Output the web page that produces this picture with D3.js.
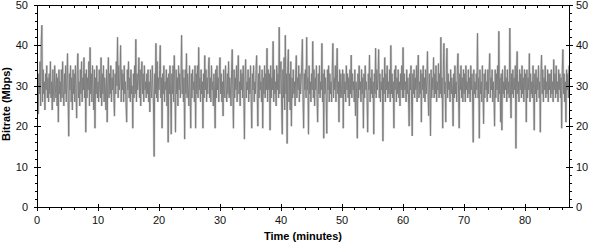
<!DOCTYPE html>
<html>
<head>
<meta charset="utf-8">
<script src="https://cdn.jsdelivr.net/npm/d3@7"></script>
<style>
body { margin: 0; background: #fff; }
text { font-family: Arial, "Liberation Sans", sans-serif; }
</style>
</head>
<body>
<script>
// samples every 0.1 minutes (Mbps); one row = 2 minutes
var step = 0.1;
var bitrate = [
  30,27,23,33,28,36,25,41,45,26,34,28,31,24,33,29,35,27,32,26,
  33,28,36,27,31,24,34,29,26,35,30,27,33,25,32,21,34,28,31,26,
  34,27,36,29,25,33,28,35,26,31,38,27,17.5,33,29,35,26,32,24,34,
  28,33,26,35,29,22,34,38,27,31,25,34,28,36,26,32,29,37,27,33,
  18.5,34,27,32,29,36,25,39.5,28,33,26,35,29,24,34,19.5,32,28,35,27,
  31,26,34,29,27,37,25,33,28,35,26,32,29,24,34,21,31,37,27,33,
  28,35,26,32,29,34,27,22.5,33,28,36,30,42,27,35,29,31,40,26,34,
  29,33,26,35,28,31,25,21,34,29,36,27,32,26,34,28,30,19.5,33,27,
  35,28,41.5,26,33,29,31,37,27,34,25,32,36,28,33,26,35,29,31,27,
  33,28,34,26,31,23.5,34,29,27,35,30,25,12.5,33,28,40.5,27,36,26,32,
  29,34,40,27,32,19.5,33,28,35,26,31,29,34,25,32,16,33,28,35,27,
  18,33,28,35,26,37.5,31,18.5,34,28,32,25,35,29,33,27,31,42.5,28,34,
  26,32,16.8,34,28,38,27,33,29,25,35,28,19.5,33,27,34,29,31,26,35,
  19.5,33,28,35,27,39.5,29,32,26,34,28,31,19.5,33,27,37.5,29,34,26,32,
  28,34,37,27,32,26,35,29,31,25,33,28,19.5,34,27,35,29,32,26,34,
  37,28,33,26,31,22.5,34,29,27,35,30,26,33,28,36,27,32,29,25,34,
  39,28,19.5,34,27,32,29,35,26,33,37.5,28,31,25,34,29,33,27,35,28,
  16.8,33,36.5,27,31,29,34,26,32,28,35,27,19.5,33,29,35,26,31,28,34,
  37.5,28,20,33,27,35,29,31,26,34,19.5,32,28,35,27,33,29,39.3,26,34,
  29,33,19,35,27,32,29,41,26,34,28,31,25,35,29,33,27,44.5,28,35,
  36,25,18,34,27,37,24,42.5,28,33,15.7,35,39,26,33,24,36,20,32,27,
  34,28,31,25,33,37.5,27,32,29,35,26,33,28,31,36,41.5,27,19.5,33,29,
  34,27,42,29,32,18,35,28,31,26,33,29,41,27,34,25,32,29,35,27,
  21,33,28,35,27,31,29,40.5,26,33,17,34,28,32,27,18.2,34,29,35,26,
  33,28,31,26,34,40.5,27,32,29,35,26,33,39.3,28,31,21,34,27,33,29,
  27,34,19.5,33,28,31,26,35,29,33,27,32,25,34,28,37.6,27,33,29,31,
  26,34,22.6,31,28,17,33,27,35,29,31,26,34,28,32,19.5,33,27,35,29,
  31,27,18.5,33,29,37.6,26,32,28,34,27,31,18,33,28,39.3,27,34,29,32,
  39,27,33,26,31,29,34,16.3,32,28,37,26,33,29,35,27,31,28,34,26,
  40,28,33,27,31,19.5,34,29,35,26,32,28,34,27,31,25,33,29,35,27,
  39.5,27,33,29,31,26,34,28,32,27,20,33,29,35,26,17.6,33,28,34,27,
  32,29,35,26,33,37.6,27,31,28,34,21,33,29,35,27,32,26,34,28,31,
  38.5,28,22.6,33,29,17.6,34,27,32,29,37,27,33,28,35,26,31,29,35.5,27,
  33,28,42,27,32,19.5,34,40.5,28,31,21,34,39.3,27,33,29,31,26,34,28,
  32,29,20,33,27,35,28,31,26,34,38,28,19.5,33,29,35,27,32,26,34,
  28,33,26,35,29,31,27,34,28,32,26,35,29,33,27,16,34,28,31,27,
  33,29,43,27,32,17,34,28,31,26,35,29,20.6,33,27,34,29,31,26,34,
  28,33,38,27,32,29,34,26,31,28,20,34,27,33,29,35,26,43.5,28,32,
  21,33,19,34,28,31,27,35,29,32,26,34,28,31,27,44.3,29,22,33,28,
  34,27,32,29,35,14.5,33,38.5,28,31,26,34,29,33,27,35,28,32,26,34,
  29,33,21,34,27,32,29,38,26,33,28,31,27,35,29,19,33,28,34,26,
  32,29,35,27,31,18.5,33,37.6,28,34,26,32,29,35,27,31,28,34,26,33,
  29,33,27,34,28,31,26,36.5,29,33,27,35,28,31,26,34,29,33,27,32,
  19.5,34,39,28,33,26,31,21,34,29,33,27,35
];
var xTicks = [0, 10, 20, 30, 40, 50, 60, 70, 80];
var yTicks = [0, 10, 20, 30, 40, 50];
var xMinor = d3.range(0, 88, 2).filter(function(v) { return v % 10 !== 0; });
var yMinor = d3.range(0, 51, 2).filter(function(v) { return v % 10 !== 0; });

var W = 590, H = 243;
var pl = 37, pr = 569, pt = 5, pb = 207;

var x = d3.scaleLinear().domain([0, 87.2]).range([pl, pr]);
var y = d3.scaleLinear().domain([0, 50]).range([pb, pt]);

var svg = d3.select("body").append("svg")
    .attr("width", W)
    .attr("height", H);

svg.append("clipPath").attr("id", "plot")
  .append("rect")
    .attr("x", pl).attr("y", pt)
    .attr("width", pr - pl).attr("height", pb - pt);

var line = d3.line()
    .x(function(d, i) { return x(i * step); })
    .y(function(d) { return y(d); });

var g = svg.append("g").attr("clip-path", "url(#plot)");
g.append("path")
    .datum(bitrate)
    .attr("d", line)
    .attr("fill", "none")
    .attr("stroke", "#d8d8d8")
    .attr("stroke-width", 2.4);
g.append("path")
    .datum(bitrate)
    .attr("d", line)
    .attr("fill", "none")
    .attr("stroke", "#7e7e7e")
    .attr("stroke-width", 1);

// frame
svg.append("rect")
    .attr("x", pl + 0.5).attr("y", pt + 0.5)
    .attr("width", pr - pl).attr("height", pb - pt)
    .attr("fill", "none")
    .attr("stroke", "#000")
    .attr("stroke-width", 1);

var ticks = svg.append("g").attr("stroke", "#000").attr("stroke-width", 1);

// left / right major
yTicks.forEach(function(v) {
  var yy = Math.round(y(v)) + 0.5;
  ticks.append("line").attr("x1", pl - 3).attr("x2", pl + 4).attr("y1", yy).attr("y2", yy);
  ticks.append("line").attr("x1", pr - 3).attr("x2", pr + 4).attr("y1", yy).attr("y2", yy);
});
yMinor.forEach(function(v) {
  var yy = Math.round(y(v)) + 0.5;
  ticks.append("line").attr("x1", pl - 2).attr("x2", pl).attr("y1", yy).attr("y2", yy);
  ticks.append("line").attr("x1", pr + 1).attr("x2", pr + 3).attr("y1", yy).attr("y2", yy);
});
// bottom / top
xTicks.forEach(function(v) {
  var xx = Math.round(x(v)) + 0.5;
  ticks.append("line").attr("x1", xx).attr("x2", xx).attr("y1", pb - 3).attr("y2", pb + 4);
  ticks.append("line").attr("x1", xx).attr("x2", xx).attr("y1", pt).attr("y2", pt + 4);
});
xMinor.forEach(function(v) {
  var xx = Math.round(x(v)) + 0.5;
  ticks.append("line").attr("x1", xx).attr("x2", xx).attr("y1", pb + 1).attr("y2", pb + 3);
  ticks.append("line").attr("x1", xx).attr("x2", xx).attr("y1", pt + 1).attr("y2", pt + 3);
});

// tick labels
svg.append("g").selectAll("text").data(yTicks).enter().append("text")
    .attr("x", pl - 9).attr("y", function(d) { return y(d) + 4; })
    .attr("text-anchor", "end")
    .attr("font-size", 11).attr("fill", "#111")
    .text(function(d) { return d; });
svg.append("g").selectAll("text").data(yTicks).enter().append("text")
    .attr("x", pr + 7).attr("y", function(d) { return y(d) + 4; })
    .attr("text-anchor", "start")
    .attr("font-size", 11).attr("fill", "#111")
    .text(function(d) { return d; });
svg.append("g").selectAll("text").data(xTicks).enter().append("text")
    .attr("x", function(d) { return x(d); }).attr("y", 224)
    .attr("text-anchor", "middle")
    .attr("font-size", 11).attr("fill", "#111")
    .text(function(d) { return d; });

svg.append("text")
    .attr("x", 303).attr("y", 240)
    .attr("text-anchor", "middle")
    .attr("font-size", 11).attr("font-weight", "bold")
    .text("Time (minutes)");
svg.append("text")
    .attr("transform", "translate(10,104) rotate(-90)")
    .attr("text-anchor", "middle")
    .attr("font-size", 11).attr("font-weight", "bold")
    .text("Bitrate (Mbps)");
</script>
</body>
</html>
